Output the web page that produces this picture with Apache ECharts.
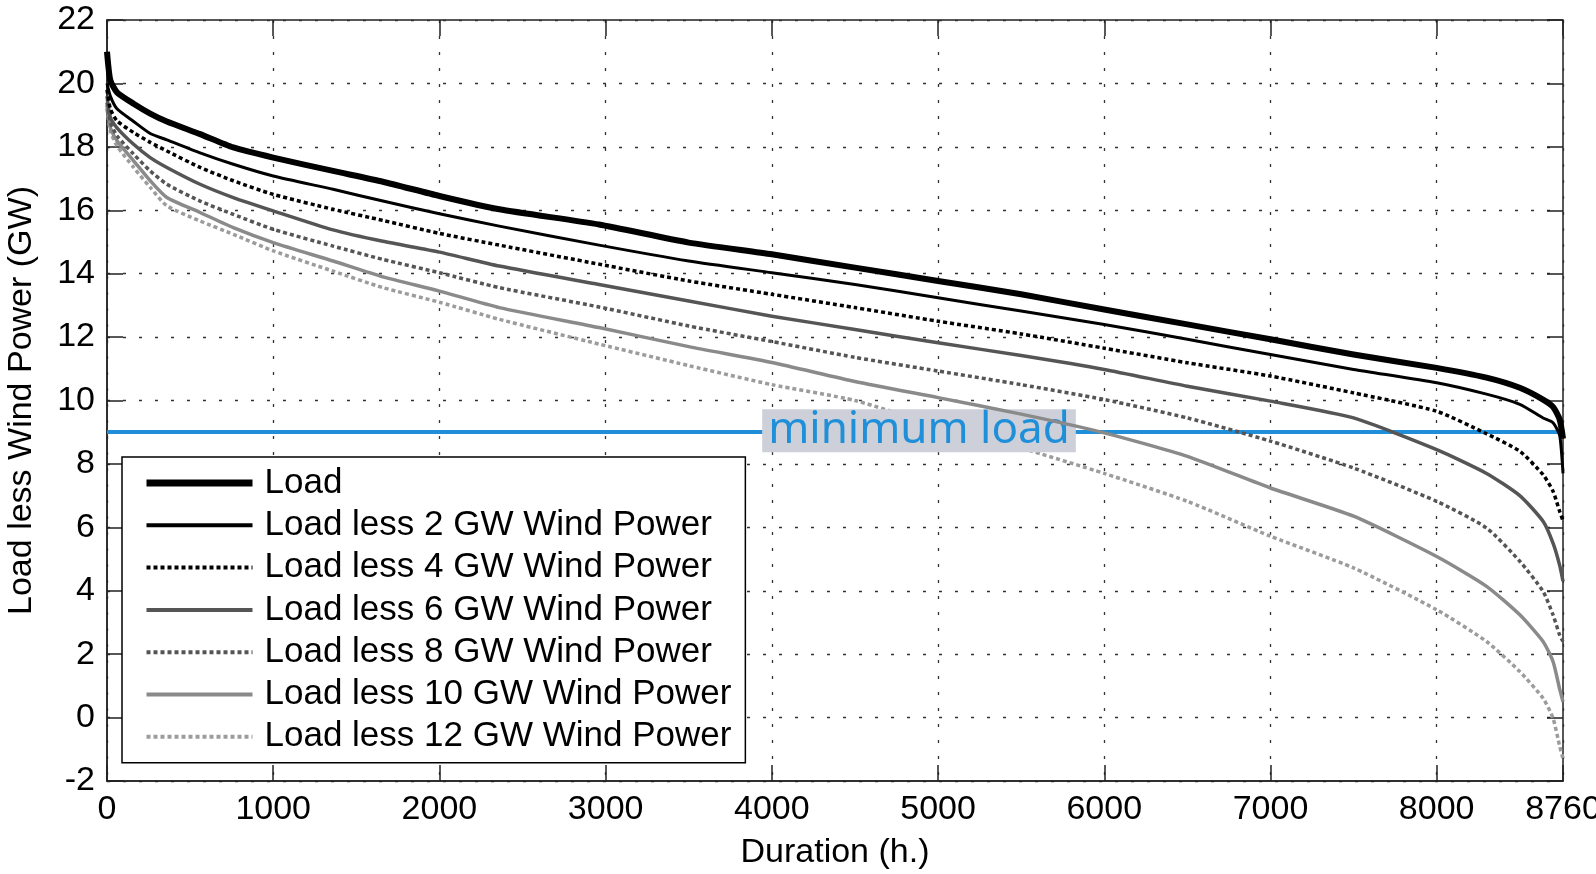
<!DOCTYPE html>
<html>
<head>
<meta charset="utf-8">
<script src="https://cdn.jsdelivr.net/npm/echarts@6/dist/echarts.min.js"></script>
<style>
html,body{margin:0;padding:0;background:#fff;}
#chart{width:1596px;height:874px;}
</style>
</head>
<body>
<div id="chart"></div>
<script>
// Duration (h.)
const hours = [0, 20, 60, 160, 260, 360, 560, 760, 1000, 1360, 1660, 2000, 2360, 2960, 3500, 4000, 4500, 5000, 5500, 6000, 6500, 7000, 7500, 8000, 8300, 8500, 8640, 8700, 8740, 8760];
const load    = [21.0, 20.1, 19.72, 19.36, 19.05, 18.8, 18.4, 17.98, 17.66, 17.24, 16.9, 16.45, 16.03, 15.55, 14.98, 14.61, 14.19, 13.77, 13.35, 12.87, 12.4, 11.93, 11.45, 11.03, 10.72, 10.4, 10.03, 9.8, 9.4, 8.8];
const less2   = [20.0, 19.6, 19.2, 18.8, 18.42, 18.22, 17.81, 17.45, 17.08, 16.66, 16.29, 15.89, 15.5, 14.9, 14.4, 14.03, 13.66, 13.24, 12.82, 12.4, 11.93, 11.45, 10.98, 10.56, 10.2, 9.88, 9.45, 9.3, 8.9, 7.7];
const less4   = [19.8, 19.2, 18.82, 18.45, 18.14, 17.87, 17.35, 16.93, 16.5, 16.03, 15.68, 15.27, 14.9, 14.3, 13.77, 13.35, 12.93, 12.5, 12.1, 11.65, 11.19, 10.77, 10.24, 9.66, 8.95, 8.4, 7.66, 7.14, 6.5, 6.2];
const less6   = [19.6, 18.93, 18.6, 18.08, 17.66, 17.35, 16.82, 16.4, 15.98, 15.38, 15.02, 14.68, 14.24, 13.66, 13.14, 12.66, 12.24, 11.82, 11.42, 10.98, 10.45, 9.98, 9.45, 8.45, 7.7, 7.0, 6.19, 5.5, 4.8, 4.3];
const less8   = [19.4, 18.77, 18.35, 17.77, 17.24, 16.82, 16.29, 15.87, 15.4, 14.87, 14.45, 14.03, 13.56, 12.95, 12.35, 11.86, 11.36, 10.93, 10.5, 10.03, 9.45, 8.72, 7.87, 6.82, 5.98, 4.93, 3.98, 3.24, 2.6, 2.4];
const less10  = [19.3, 18.6, 18.19, 17.56, 16.93, 16.4, 15.93, 15.45, 14.98, 14.4, 13.9, 13.45, 12.93, 12.3, 11.7, 11.2, 10.6, 10.09, 9.57, 8.98, 8.24, 7.24, 6.35, 5.08, 4.14, 3.24, 2.4, 1.77, 0.9, 0.5];
const less12  = [19.2, 18.5, 18.03, 17.35, 16.72, 16.14, 15.66, 15.24, 14.72, 14.08, 13.56, 13.1, 12.56, 11.78, 11.1, 10.5, 10.0, 9.2, 8.5, 7.7, 6.82, 5.72, 4.72, 3.4, 2.4, 1.45, 0.61, -0.02, -0.9, -1.3];
const seriesNames = ['Load', 'Load less 2 GW Wind Power', 'Load less 4 GW Wind Power', 'Load less 6 GW Wind Power', 'Load less 8 GW Wind Power', 'Load less 10 GW Wind Power', 'Load less 12 GW Wind Power'];
const minimumLoad = 9;
const minimumLoadLabel = 'minimum load';
const xTitle = 'Duration (h.)';
const yTitle = 'Load less Wind Power (GW)';

const seriesValues = [load, less2, less4, less6, less8, less10, less12];
const styles = [
  {color: '#000000', width: 6, legendWidth: 7, type: 'solid'},
  {color: '#000000', width: 3, legendWidth: 4, type: 'solid'},
  {color: '#000000', width: 3.5, legendWidth: 4, type: [4, 3]},
  {color: '#555555', width: 3.5, legendWidth: 4, type: 'solid'},
  {color: '#555555', width: 3.5, legendWidth: 4, type: [4, 3]},
  {color: '#8a8a8a', width: 3.5, legendWidth: 4, type: 'solid'},
  {color: '#9c9c9c', width: 3.5, legendWidth: 4, type: [4, 3]}
];

const FONT = 'Liberation Sans, Arial, sans-serif';
const series = seriesValues.map((vals, i) => ({
  name: seriesNames[i],
  type: 'line',
  data: hours.map((h, k) => [h, vals[k]]),
  showSymbol: false,
  symbol: 'none',
  smooth: 0.2,
  color: styles[i].color,
  lineStyle: {color: styles[i].color, width: styles[i].width, type: styles[i].type, cap: 'butt', join: 'round'},
  z: 10 - i,
  emphasis: {disabled: true}
}));
series[0].markLine = {
  silent: true,
  symbol: 'none',
  animation: false,
  lineStyle: {color: '#1e8fd8', width: 4, type: 'solid'},
  label: {
    show: true,
    position: 'middle',
    formatter: minimumLoadLabel,
    color: '#1e8fd8',
    fontFamily: 'Noto Sans, sans-serif',
    fontSize: 44,
    lineHeight: 43,
    backgroundColor: '#cdd0d8',
    padding: [0, 6],
    offset: [84, 25]
  },
  data: [{yAxis: minimumLoad}]
};

const legendData = seriesNames.map((n, i) => ({
  name: n,
  lineStyle: {width: styles[i].legendWidth, color: styles[i].color, type: styles[i].type},
  itemStyle: {opacity: 0}
}));

const chart = echarts.init(document.getElementById('chart'), null, {renderer: 'canvas'});
const tickStyle = {show: true, inside: true, length: 16, lineStyle: {color: '#222', width: 1.5}};
chart.setOption({
  animation: false,
  backgroundColor: '#ffffff',
  grid: {left: 107, right: 33, top: 20, bottom: 93, show: true, borderColor: '#222', borderWidth: 1.5, backgroundColor: 'transparent', containLabel: false, outerBoundsMode: 'none'},
  legend: {
    data: legendData,
    orient: 'vertical',
    left: 122,
    top: 457,
    backgroundColor: '#ffffff',
    borderColor: '#000',
    borderWidth: 1.5,
    borderRadius: 0,
    padding: [8, 14, 8, 21],
    itemGap: 6.3,
    itemWidth: 106,
    itemHeight: 20,
    z: 30,
    selectedMode: false,
    itemStyle: {opacity: 0},
    textStyle: {fontFamily: FONT, fontSize: 35, color: '#000', lineHeight: 36, padding: [0, 0, 0, 7]}
  },
  xAxis: [{
    type: 'value', min: 0, max: 8760, interval: 1000,
    name: xTitle, nameLocation: 'middle', nameGap: 55,
    nameTextStyle: {fontFamily: FONT, fontSize: 34, color: '#000'},
    axisLine: {show: true, onZero: false, lineStyle: {color: '#222', width: 1.5}},
    axisTick: tickStyle,
    axisLabel: {fontFamily: FONT, fontSize: 34, color: '#000', margin: 12, formatter: v => String(v)},
    splitLine: {show: true, lineStyle: {color: '#333', width: 1.3, type: [3, 13]}}
  }, {
    type: 'value', min: 0, max: 8760, interval: 1000, position: 'top',
    axisLine: {show: false, onZero: false}, axisTick: tickStyle, axisLabel: {show: false}, splitLine: {show: false}
  }],
  yAxis: [{
    type: 'value', min: -2, max: 22, interval: 2,
    name: yTitle, nameLocation: 'middle', nameGap: 68,
    nameTextStyle: {fontFamily: FONT, fontSize: 34, color: '#000'},
    axisLine: {show: true, onZero: false, lineStyle: {color: '#222', width: 1.5}},
    axisTick: tickStyle,
    axisLabel: {fontFamily: FONT, fontSize: 34, color: '#000', margin: 12},
    splitLine: {show: true, lineStyle: {color: '#333', width: 1.3, type: [3, 13]}}
  }, {
    type: 'value', min: -2, max: 22, interval: 2, position: 'right',
    axisLine: {show: false, onZero: false}, axisTick: tickStyle, axisLabel: {show: false}, splitLine: {show: false}
  }],
  series: series
});
</script>
</body>
</html>
